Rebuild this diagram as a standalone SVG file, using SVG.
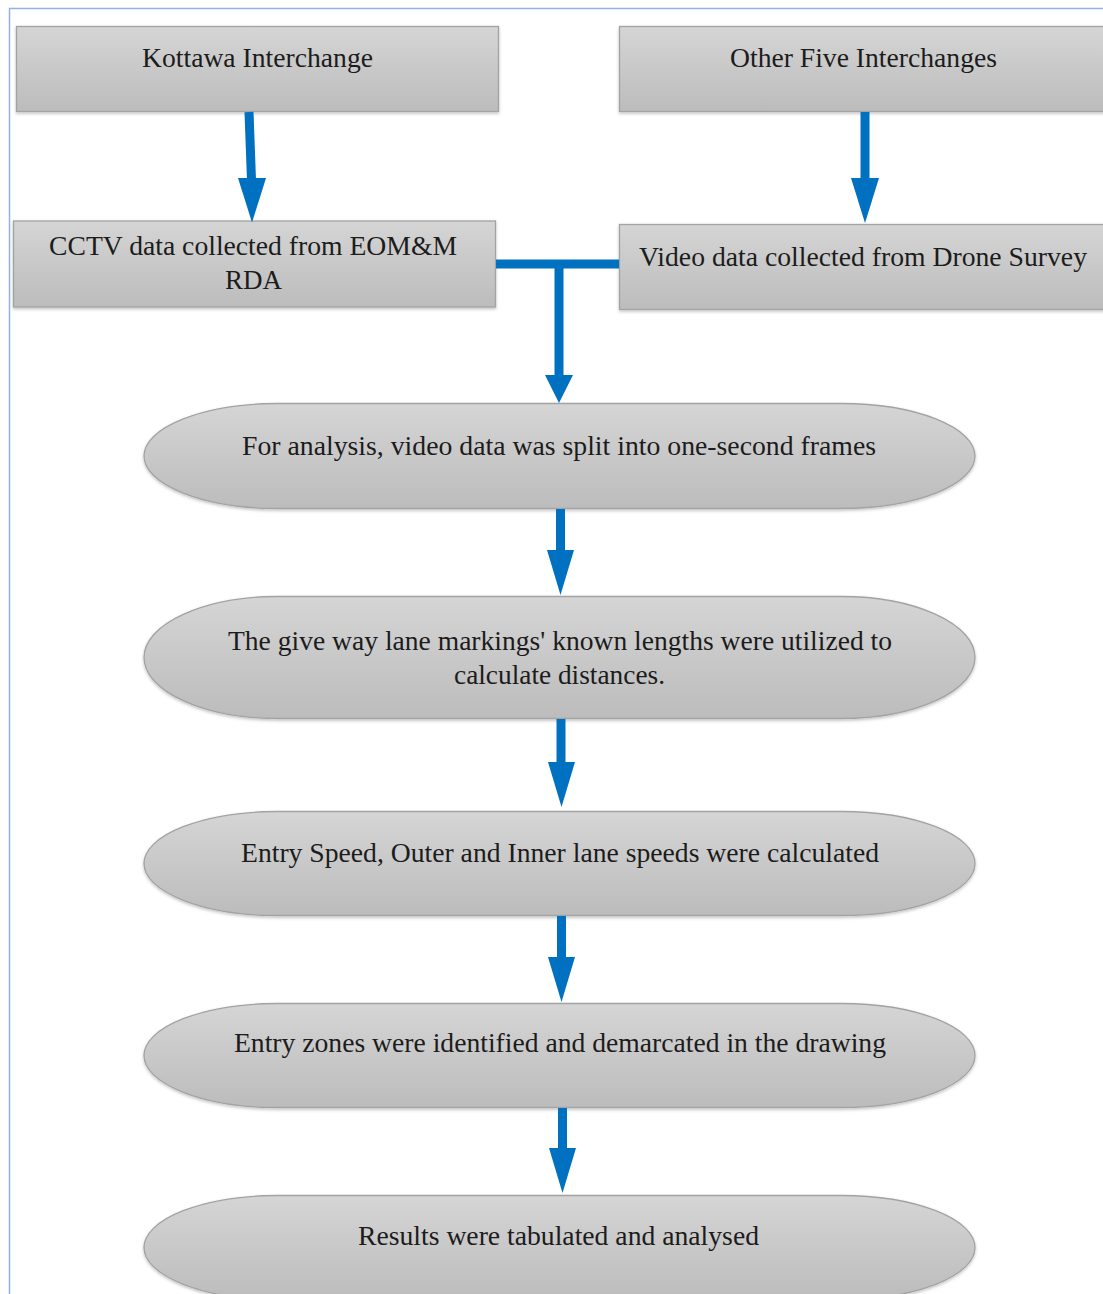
<svg xmlns="http://www.w3.org/2000/svg" width="1103" height="1294" viewBox="0 0 1103 1294">
<defs>
<linearGradient id="g" x1="0" y1="0" x2="0" y2="1">
<stop offset="0" stop-color="#d5d5d5"/>
<stop offset="1" stop-color="#bcbcbc"/>
</linearGradient>
<filter id="sh" x="-5%" y="-10%" width="110%" height="130%">
<feDropShadow dx="0" dy="1.5" stdDeviation="1.5" flood-color="#000" flood-opacity="0.25"/>
</filter>
</defs>
<style>
.node{fill:url(#g);stroke:#a3a3a3;stroke-width:1.3;filter:url(#sh)}
.t{font-family:"Liberation Serif","Times New Roman",serif;font-size:27.5px;fill:#1c1c1c;text-anchor:middle}
.shaft{stroke:#0070c0;stroke-width:9;fill:none}
.head{fill:#0070c0}
</style>
<rect width="1103" height="1294" fill="#ffffff"/>
<rect x="9.5" y="8.5" width="1110" height="1300" fill="none" stroke="#8fb4e3" stroke-width="1.5"/>

<g id="n1">
<rect class="node" x="16.5" y="26.5" width="482" height="85"/>
<text class="t" x="257.5" y="67" textLength="231" lengthAdjust="spacingAndGlyphs">Kottawa Interchange</text>
</g>
<g id="n2">
<rect class="node" x="619.5" y="26.5" width="500" height="85"/>
<text class="t" x="863.5" y="67" textLength="267" lengthAdjust="spacingAndGlyphs">Other Five Interchanges</text>
</g>
<g id="n3">
<rect class="node" x="13.5" y="221" width="482" height="86"/>
<text class="t" x="253" y="255" textLength="408" lengthAdjust="spacingAndGlyphs">CCTV data collected from EOM&amp;M</text>
<text class="t" x="253.5" y="289" textLength="57" lengthAdjust="spacingAndGlyphs">RDA</text>
</g>
<g id="n4">
<rect class="node" x="619.5" y="224.5" width="500" height="85"/>
<text class="t" x="863" y="266" textLength="448" lengthAdjust="spacingAndGlyphs">Video data collected from Drone Survey</text>
</g>
<g id="n5">
<rect class="node" x="144" y="403.5" width="831" height="105" rx="134" ry="52.5"/>
<text class="t" x="559" y="455" textLength="634" lengthAdjust="spacingAndGlyphs">For analysis, video data was split into one-second frames</text>
</g>
<g id="n6">
<rect class="node" x="144" y="596.5" width="831" height="122" rx="134" ry="61"/>
<text class="t" x="560" y="650" textLength="664" lengthAdjust="spacingAndGlyphs">The give way lane markings' known lengths were utilized to</text>
<text class="t" x="559.5" y="684" textLength="211" lengthAdjust="spacingAndGlyphs">calculate distances.</text>
</g>
<g id="n7">
<rect class="node" x="144" y="811.5" width="831" height="104" rx="134" ry="52"/>
<text class="t" x="560" y="862" textLength="638" lengthAdjust="spacingAndGlyphs">Entry Speed, Outer and Inner lane speeds were calculated</text>
</g>
<g id="n8">
<rect class="node" x="144" y="1003.5" width="831" height="104" rx="134" ry="52"/>
<text class="t" x="560" y="1052" textLength="652" lengthAdjust="spacingAndGlyphs">Entry zones were identified and demarcated in the drawing</text>
</g>
<g id="n9">
<rect class="node" x="144" y="1195.5" width="831" height="104" rx="134" ry="52"/>
<text class="t" x="558.5" y="1245" textLength="401" lengthAdjust="spacingAndGlyphs">Results were tabulated and analysed</text>
</g>

<g id="connectors">
<path class="shaft" d="M249,112 L251.5,180"/>
<polygon class="head" points="238,178 266,178 252,222.5"/>
<path class="shaft" d="M865,112 V180"/>
<polygon class="head" points="851,178 879,178 865,223"/>
<path class="shaft" d="M496,264 H619 M559,264 V378"/>
<polygon class="head" points="545,375 573,375 559,403"/>
<path class="shaft" d="M560.5,509 V552"/>
<polygon class="head" points="547,550 574,550 560.5,595"/>
<path class="shaft" d="M561,719 V764"/>
<polygon class="head" points="548,762 575,762 561.5,807"/>
<path class="shaft" d="M561.5,916 V959"/>
<polygon class="head" points="548,957 575,957 561.5,1002"/>
<path class="shaft" d="M562.5,1108 V1150"/>
<polygon class="head" points="549,1148 576,1148 562.5,1193"/>
</g>
</svg>
